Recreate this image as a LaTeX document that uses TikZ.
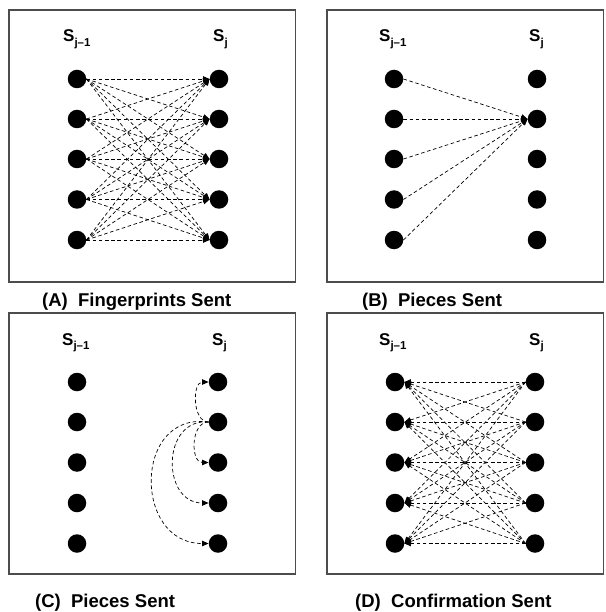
\documentclass[tikz,border=0pt]{standalone}
\usepackage{fontspec}
\setmainfont{Liberation Sans}
\usetikzlibrary{arrows.meta}
\begin{document}
\begin{tikzpicture}[x=1pt,y=-1pt,
  dot/.style={circle,fill=black,minimum size=18.5pt,inner sep=0pt},
  panel/.style={draw=black!70,line width=1.1pt},
  conn/.style={line width=0.7pt,dash pattern=on 3.6pt off 2.6pt,
    -{Triangle[length=6.5pt,width=5.5pt]}},
  capt/.style={anchor=base west,inner sep=0pt,font=\fontsize{18.5}{19}\selectfont\bfseries},
  lab/.style={anchor=base west,inner sep=0pt,font=\fontsize{17}{17}\selectfont\bfseries}]
\newcommand{\subj}[1]{S\raisebox{-4.5pt}{\fontsize{11.5}{12}\selectfont #1}}
\useasboundingbox (0,0) rectangle (605,612);
% panels
\draw[panel] (9,10) rectangle (295.5,282);
\draw[panel] (327,10) rectangle (603.5,282);
\draw[panel] (9,313) rectangle (295.5,574);
\draw[panel] (327,313) rectangle (603.5,574);
% labels
\node[lab] (la1) at (63,42) {\subj{j–1}};
\node[lab] (la2) at (213,42) {\subj{j}};
\node[lab] (lb1) at (379,42) {\subj{j–1}};
\node[lab] (lb2) at (529,42) {\subj{j}};
\node[lab] (lc1) at (62,345) {\subj{j–1}};
\node[lab] (lc2) at (212,345) {\subj{j}};
\node[lab] (ld1) at (379,345) {\subj{j–1}};
\node[lab] (ld2) at (529,345) {\subj{j}};
% captions
\node[capt] (ca) at (42,306) {(A)\ \ Fingerprints Sent};
\node[capt] (cb) at (362,306) {(B)\ \ Pieces Sent};
\node[capt] (cc) at (35,607) {(C)\ \ Pieces Sent};
\node[capt] (cd) at (355,607) {(D)\ \ Confirmation Sent};
% dots
\foreach \i/\y in {1/79,2/119,3/159,4/199.5,5/240}{
  \node[dot] (A-L-\i) at (77,\y) {};
  \node[dot] (A-R-\i) at (219,\y) {};
  \node[dot] (B-L-\i) at (394,\y) {};
  \node[dot] (B-R-\i) at (537,\y) {};
}
\foreach \i/\y in {1/382,2/422,3/462.5,4/503,5/543.5}{
  \node[dot] (C-L-\i) at (77,\y) {};
  \node[dot] (C-R-\i) at (218,\y) {};
  \node[dot] (D-L-\i) at (395,\y) {};
  \node[dot] (D-R-\i) at (535,\y) {};
}
% A: all to all, left to right
\foreach \i in {1,...,5}{\foreach \j in {1,...,5}{
  \draw[conn] (A-L-\i.east) -- (A-R-\j.west);
}}
% B: all left to right 2
\foreach \i in {1,...,5}{\draw[conn] (B-L-\i.east) -- (B-R-2.west);}
% C: curved from right 2
\draw[conn] (C-R-2.west) to[out=180,in=180,looseness=1.05] (C-R-1.west);
\draw[conn] (C-R-2.west) to[out=180,in=180,looseness=1.15] (C-R-3.west);
\draw[conn] (C-R-2.west) to[out=175,in=180,looseness=1.5] (C-R-4.west);
\draw[conn] (C-R-2.west) to[out=172,in=180,looseness=1.6] (C-R-5.west);
% D: all to all, right to left
\foreach \i in {1,...,5}{\foreach \j in {1,...,5}{
  \draw[conn] (D-R-\i.west) -- (D-L-\j.east);
}}
\end{tikzpicture}
\end{document}
